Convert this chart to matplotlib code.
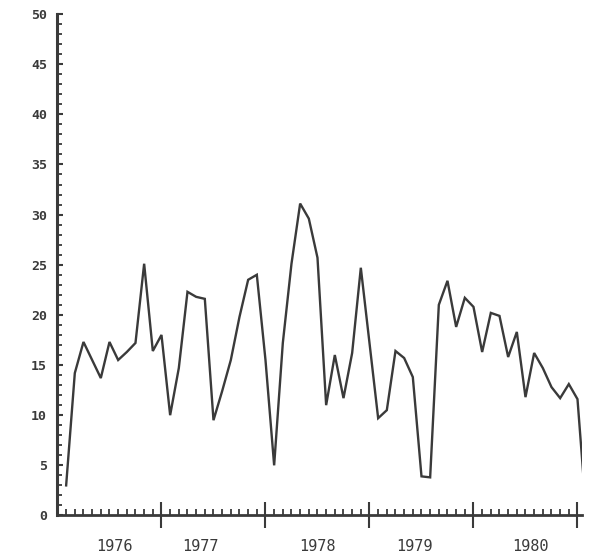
import numpy as np
import matplotlib
matplotlib.use('Agg')
from matplotlib import pyplot as plt
import matplotlib.ticker as ticker
import matplotlib.transforms as mtransforms

# monthly values, Feb 1976 onwards
values = [3.0, 14.2, 17.3, 15.5, 13.7, 17.3, 15.5, 16.3, 17.2, 25.1,
          16.4, 18.0, 10.0, 14.7, 22.3, 21.8, 21.6, 9.5, 12.4, 15.5,
          19.8, 23.5, 24.0, 15.5, 5.0, 17.2, 25.1, 31.1, 29.6, 25.7,
          11.0, 16.0, 11.7, 16.2, 24.7, 17.2, 9.7, 10.5, 16.4, 15.7,
          13.8, 3.9, 3.8, 21.0, 23.4, 18.8, 21.7, 20.8, 16.3, 20.2,
          19.9, 15.8, 18.3, 11.8, 16.2, 14.7, 12.8, 11.7, 13.1, 11.6,
          0.3]
months = 1976 + np.arange(1, len(values) + 1) / 12.0

year_labels = ["1976", "1977", "1978", "1979", "1980"]
label_pos = [1976.55, 1977.37, 1978.50, 1979.43, 1980.55]
year_ticks = [1977, 1978, 1979, 1980, 1981]

ink = "#3a3a3a"

fig = plt.figure(figsize=(6.0, 5.58), dpi=100)
ax = fig.add_axes([0.0958, 0.0762, 0.875, 0.8987])

ax.plot(months, values, color=ink, linewidth=1.7, solid_joinstyle='miter')

ax.set_xlim(1976, 1981.048)
ax.set_ylim(0, 50)

for s in ["top", "right"]:
    ax.spines[s].set_visible(False)
ax.spines["left"].set_linewidth(2.2)
ax.spines["bottom"].set_linewidth(2.0)
ax.spines["left"].set_color(ink)
ax.spines["bottom"].set_color(ink)

# y axis
ax.yaxis.set_major_locator(ticker.MultipleLocator(5))
ax.yaxis.set_minor_locator(ticker.MultipleLocator(1))
ax.tick_params(axis='y', which='major', direction='in', length=4.5, width=1.5,
               color=ink, pad=7.5, labelsize=9.5, labelcolor=ink)
ax.tick_params(axis='y', which='minor', direction='in', length=3.5, width=1.3,
               color=ink)
for lab in ax.get_yticklabels():
    lab.set_family("DejaVu Sans Mono")
    lab.set_fontweight("bold")

# x axis
ax.set_xticks(year_ticks)
ax.set_xticklabels([])
ax.xaxis.set_minor_locator(ticker.MultipleLocator(1 / 12.0))
ax.tick_params(axis='x', which='major', direction='inout', length=19, width=1.5,
               color=ink)
ax.tick_params(axis='x', which='minor', direction='in', length=4.5, width=1.3,
               color=ink)

trans = mtransforms.blended_transform_factory(ax.transData, ax.transAxes)
for pos, lab in zip(label_pos, year_labels):
    ax.text(pos, -0.062, lab, transform=trans, ha='center', va='center',
            fontsize=11, family="DejaVu Sans Mono", color=ink)

plt.savefig("out.png", dpi=100)
